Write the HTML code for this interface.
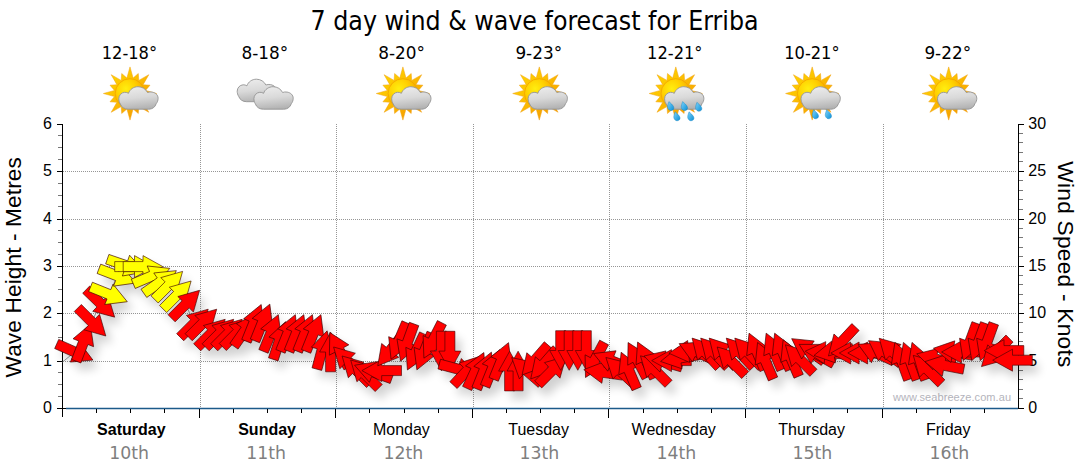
<!DOCTYPE html><html><head><meta charset="utf-8"><title>7 day wind &amp; wave forecast for Erriba</title>
<style>html,body{margin:0;padding:0;background:#fff}svg{display:block}text{font-family:"Liberation Sans",sans-serif;fill:#000}.t{font-family:"DejaVu Sans Condensed","DejaVu Sans","Liberation Sans",sans-serif}.d{font-family:"DejaVu Sans","Liberation Sans",sans-serif;fill:#7f7f7f}</style></head><body>
<svg width="1080" height="475" viewBox="0 0 1080 475">
<defs>
<radialGradient id="sg" cx="0.36" cy="0.34" r="0.75"><stop offset="0" stop-color="#ffee10"/><stop offset="0.45" stop-color="#ffd000"/><stop offset="1" stop-color="#f39a00"/></radialGradient>
<linearGradient id="rg" x1="0" y1="0" x2="1" y2="1"><stop offset="0" stop-color="#ffe000"/><stop offset="0.5" stop-color="#fbb800"/><stop offset="1" stop-color="#f08c00"/></linearGradient>
<linearGradient id="cg" x1="0.3" y1="0" x2="0.5" y2="1"><stop offset="0" stop-color="#ececec"/><stop offset="0.5" stop-color="#d9d9d9"/><stop offset="1" stop-color="#b2b2b2"/></linearGradient>
<linearGradient id="dg" x1="0" y1="0" x2="1" y2="1"><stop offset="0" stop-color="#7fd4fb"/><stop offset="1" stop-color="#0a8fd6"/></linearGradient>
<filter id="sh" x="-5%" y="-30%" width="110%" height="170%"><feGaussianBlur stdDeviation="5"/></filter>
<filter id="is" x="-20%" y="-20%" width="140%" height="150%"><feGaussianBlur stdDeviation="0.5"/></filter>
<path id="ar" d="M-19.8-5H0V-11L19.8 0L0 11V5H-19.8Z"/>
<path id="cl" d="M9.5 22.5C5.5 22.5 2.6 20.4 1.5 17.2C0.5 15.7 0 13.8 0 12C0 8.6 2.6 5.8 5.9 5.6C7.3 5.5 8.6 5.9 9.7 6.6C11 2.7 14.8 0 19.2 0C23.4 0 27 2.3 28.7 5.8C30.1 5.2 31.7 5.1 33.3 5.4C36.8 6 39.3 8.4 39.3 11.5C39.3 13.7 38.6 15.6 37.4 17C36.4 20.4 33.6 22.5 29.8 22.5Z" fill="url(#cg)" stroke="#949494" stroke-width="0.9"/>
<path id="dr" d="M-1.9-4.2C0.5-2.1 3.4 0.3 3 2.6C2.7 4.6 0.2 5.4-1.6 4.2C-3.5 3-3.5 0.7-2.8-1.4Z" fill="url(#dg)" stroke="#0b7fc0" stroke-width="0.4"/>
<g id="sun">
<polygon points="0.0,-26.6 3.1,-15.5 8.3,-20.0 8.8,-13.1 18.8,-18.8 13.1,-8.8 20.0,-8.3 15.5,-3.1 26.6,0.0 15.5,3.1 20.0,8.3 13.1,8.8 18.8,18.8 8.8,13.1 8.3,20.0 3.1,15.5 0.0,26.6 -3.1,15.5 -8.3,20.0 -8.8,13.1 -18.8,18.8 -13.1,8.8 -20.0,8.3 -15.5,3.1 -26.6,0.0 -15.5,-3.1 -20.0,-8.3 -13.1,-8.8 -18.8,-18.8 -8.8,-13.1 -8.3,-20.0 -3.1,-15.5" fill="url(#rg)" stroke="#f0a010" stroke-width="0.5" stroke-linejoin="round"/>
<circle r="14.8" fill="url(#sg)" stroke="#f2a200" stroke-width="0.8"/>
</g></defs>
<rect width="1080" height="475" fill="#fff"/>
<text class="t" x="310.6" y="30" font-size="26.67" textLength="448" lengthAdjust="spacingAndGlyphs">7 day wind &amp; wave forecast for Erriba</text>
<text class="t" x="101.7" y="59" font-size="17.33" textLength="55.4" lengthAdjust="spacingAndGlyphs">12-18°</text>
<use href="#sun" x="130.0" y="93.5"/>
<use href="#cl" x="118.8" y="86.7"/>
<text class="t" x="241.5" y="59" font-size="17.33" textLength="46.7" lengthAdjust="spacingAndGlyphs">8-18°</text>
<use href="#cl" x="237.2" y="79.2"/><use href="#cl" x="253.9" y="86.7"/>
<text class="t" x="378.2" y="59" font-size="17.33" textLength="46.7" lengthAdjust="spacingAndGlyphs">8-20°</text>
<use href="#sun" x="402.9" y="93.5"/>
<use href="#cl" x="391.7" y="86.7"/>
<text class="t" x="515.4" y="59" font-size="17.33" textLength="46.7" lengthAdjust="spacingAndGlyphs">9-23°</text>
<use href="#sun" x="539.3" y="93.5"/>
<use href="#cl" x="528.1" y="86.7"/>
<text class="t" x="647.1" y="59" font-size="17.33" textLength="55.4" lengthAdjust="spacingAndGlyphs">12-21°</text>
<use href="#sun" x="675.8" y="93.5"/>
<use href="#cl" x="664.6" y="86.7"/>
<use href="#dr" x="670.8" y="105.8"/>
<use href="#dr" x="684.5" y="105.8"/>
<use href="#dr" x="698.8" y="106.5"/>
<use href="#dr" x="677.0" y="116.0"/>
<use href="#dr" x="690.9" y="116.0"/>
<text class="t" x="784.2" y="59" font-size="17.33" textLength="55.4" lengthAdjust="spacingAndGlyphs">10-21°</text>
<use href="#sun" x="812.2" y="93.5"/>
<use href="#cl" x="801.0" y="86.7"/>
<use href="#dr" x="815.5" y="114.0"/>
<use href="#dr" x="828.5" y="114.0"/>
<text class="t" x="924.4" y="59" font-size="17.33" textLength="46.7" lengthAdjust="spacingAndGlyphs">9-22°</text>
<use href="#sun" x="948.7" y="93.5"/>
<use href="#cl" x="937.5" y="86.7"/>
<g stroke="#969696" stroke-width="1" stroke-dasharray="1 1" fill="none" shape-rendering="crispEdges">
<path d="M63 361.5H1016"/>
<path d="M63 313.5H1016"/>
<path d="M63 266.5H1016"/>
<path d="M63 219.5H1016"/>
<path d="M63 171.5H1016"/>
<path d="M200.5 124V408"/>
<path d="M336.5 124V408"/>
<path d="M473.5 124V408"/>
<path d="M609.5 124V408"/>
<path d="M746.5 124V408"/>
<path d="M883.5 124V408"/>
</g>
<text x="893" y="400.8" font-size="11" textLength="118" lengthAdjust="spacing" style="fill:#b4b4bc">www.seabreeze.com.au</text>
<g stroke="#000" stroke-width="1" fill="none" shape-rendering="crispEdges">
<path d="M62.5 124V417"/><path d="M1018.5 124V409"/>
<path d="M57 408.5H62"/><path d="M1019 408.5H1024"/>
<path d="M57 361.5H62"/><path d="M1019 361.5H1024"/>
<path d="M57 313.5H62"/><path d="M1019 313.5H1024"/>
<path d="M57 266.5H62"/><path d="M1019 266.5H1024"/>
<path d="M57 219.5H62"/><path d="M1019 219.5H1024"/>
<path d="M57 171.5H62"/><path d="M1019 171.5H1024"/>
<path d="M57 124.5H62"/><path d="M1019 124.5H1024"/>
</g><g stroke="#777" stroke-width="1" fill="none" shape-rendering="crispEdges">
<path d="M1019 398.5H1023"/>
<path d="M1019 389.5H1023"/>
<path d="M1019 379.5H1023"/>
<path d="M1019 370.5H1023"/>
<path d="M1019 351.5H1023"/>
<path d="M1019 341.5H1023"/>
<path d="M1019 332.5H1023"/>
<path d="M1019 322.5H1023"/>
<path d="M1019 303.5H1023"/>
<path d="M1019 294.5H1023"/>
<path d="M1019 284.5H1023"/>
<path d="M1019 275.5H1023"/>
<path d="M1019 256.5H1023"/>
<path d="M1019 247.5H1023"/>
<path d="M1019 237.5H1023"/>
<path d="M1019 228.5H1023"/>
<path d="M1019 209.5H1023"/>
<path d="M1019 199.5H1023"/>
<path d="M1019 190.5H1023"/>
<path d="M1019 180.5H1023"/>
<path d="M1019 161.5H1023"/>
<path d="M1019 152.5H1023"/>
<path d="M1019 142.5H1023"/>
<path d="M1019 133.5H1023"/>
<path d="M58 396.5H62"/>
<path d="M58 384.5H62"/>
<path d="M58 372.5H62"/>
<path d="M58 348.5H62"/>
<path d="M58 337.5H62"/>
<path d="M58 325.5H62"/>
<path d="M58 301.5H62"/>
<path d="M58 289.5H62"/>
<path d="M58 277.5H62"/>
<path d="M58 254.5H62"/>
<path d="M58 242.5H62"/>
<path d="M58 230.5H62"/>
<path d="M58 206.5H62"/>
<path d="M58 195.5H62"/>
<path d="M58 183.5H62"/>
<path d="M58 159.5H62"/>
<path d="M58 147.5H62"/>
<path d="M58 135.5H62"/>
</g>
<path d="M57 408.5H66" stroke="#000" stroke-width="1" fill="none" shape-rendering="crispEdges"/><path d="M66 408.5H1018" stroke="#1c5a8a" stroke-width="1.3" fill="none"/>
<g stroke="#000" stroke-width="1" fill="none" shape-rendering="crispEdges">
<path d="M96.5 409V413"/>
<path d="M130.5 409V413"/>
<path d="M164.5 409V413"/>
<path d="M199.5 409V418"/>
<path d="M233.5 409V413"/>
<path d="M267.5 409V413"/>
<path d="M301.5 409V413"/>
<path d="M335.5 409V418"/>
<path d="M369.5 409V413"/>
<path d="M404.5 409V413"/>
<path d="M438.5 409V413"/>
<path d="M472.5 409V418"/>
<path d="M506.5 409V413"/>
<path d="M540.5 409V413"/>
<path d="M574.5 409V413"/>
<path d="M608.5 409V418"/>
<path d="M643.5 409V413"/>
<path d="M677.5 409V413"/>
<path d="M711.5 409V413"/>
<path d="M745.5 409V418"/>
<path d="M779.5 409V413"/>
<path d="M813.5 409V413"/>
<path d="M847.5 409V413"/>
<path d="M882.5 409V418"/>
<path d="M916.5 409V413"/>
<path d="M950.5 409V413"/>
<path d="M984.5 409V413"/>
</g>
<text x="52" y="413.0" font-size="16" text-anchor="end">0</text>
<text x="1028.3" y="413.0" font-size="16">0</text>
<text x="52" y="365.7" font-size="16" text-anchor="end">1</text>
<text x="1028.3" y="365.7" font-size="16">5</text>
<text x="52" y="318.3" font-size="16" text-anchor="end">2</text>
<text x="1028.3" y="318.3" font-size="16">10</text>
<text x="52" y="271.0" font-size="16" text-anchor="end">3</text>
<text x="1028.3" y="271.0" font-size="16">15</text>
<text x="52" y="223.7" font-size="16" text-anchor="end">4</text>
<text x="1028.3" y="223.7" font-size="16">20</text>
<text x="52" y="176.3" font-size="16" text-anchor="end">5</text>
<text x="1028.3" y="176.3" font-size="16">25</text>
<text x="52" y="129.0" font-size="16" text-anchor="end">6</text>
<text x="1028.3" y="129.0" font-size="16">30</text>
<text transform="translate(21 267.3) rotate(-90)" font-size="22.7" text-anchor="middle" textLength="220.5" lengthAdjust="spacing">Wave Height - Metres</text>
<text transform="translate(1058.3 264.3) rotate(90)" font-size="22.7" text-anchor="middle" textLength="206" lengthAdjust="spacing">Wind Speed - Knots</text>
<text x="131.3" y="434.6" font-size="16" text-anchor="middle" font-weight="bold">Saturday</text>
<text class="d" x="109.3" y="458.7" font-size="17.33" textLength="39.8" lengthAdjust="spacingAndGlyphs">10th</text>
<text x="267.1" y="434.6" font-size="16" text-anchor="middle" font-weight="bold">Sunday</text>
<text class="d" x="246.2" y="458.7" font-size="17.33" textLength="39.8" lengthAdjust="spacingAndGlyphs">11th</text>
<text x="401.4" y="434.6" font-size="16" text-anchor="middle">Monday</text>
<text class="d" x="383.4" y="458.7" font-size="17.33" textLength="39.8" lengthAdjust="spacingAndGlyphs">12th</text>
<text x="538.6" y="434.6" font-size="16" text-anchor="middle">Tuesday</text>
<text class="d" x="519.5" y="458.7" font-size="17.33" textLength="39.8" lengthAdjust="spacingAndGlyphs">13th</text>
<text x="673.7" y="434.6" font-size="16" text-anchor="middle">Wednesday</text>
<text class="d" x="656.4" y="458.7" font-size="17.33" textLength="39.8" lengthAdjust="spacingAndGlyphs">14th</text>
<text x="811.6" y="434.6" font-size="16" text-anchor="middle">Thursday</text>
<text class="d" x="792.5" y="458.7" font-size="17.33" textLength="39.8" lengthAdjust="spacingAndGlyphs">15th</text>
<text x="948.2" y="434.6" font-size="16" text-anchor="middle">Friday</text>
<text class="d" x="929.4" y="458.7" font-size="17.33" textLength="39.8" lengthAdjust="spacingAndGlyphs">16th</text>
<g filter="url(#sh)" opacity="0.18" transform="translate(6 8)" fill="#000">
<use href="#ar" transform="translate(74.8 352.0) rotate(24)"/>
<use href="#ar" transform="translate(83.3 342.7) rotate(-69)"/>
<use href="#ar" transform="translate(91.8 322.0) rotate(45)"/>
<use href="#ar" transform="translate(100.4 303.4) rotate(44)"/>
<use href="#ar" transform="translate(108.9 294.3) rotate(22)"/>
<use href="#ar" transform="translate(117.4 275.9) rotate(21)"/>
<use href="#ar" transform="translate(126.0 265.6) rotate(19)"/>
<use href="#ar" transform="translate(134.5 266.6) rotate(0)"/>
<use href="#ar" transform="translate(143.0 266.6) rotate(0)"/>
<use href="#ar" transform="translate(151.5 276.1) rotate(-23)"/>
<use href="#ar" transform="translate(160.1 282.0) rotate(-35)"/>
<use href="#ar" transform="translate(168.6 285.4) rotate(-45)"/>
<use href="#ar" transform="translate(177.1 295.0) rotate(-45)"/>
<use href="#ar" transform="translate(185.6 304.3) rotate(-45)"/>
<use href="#ar" transform="translate(194.2 323.2) rotate(-45)"/>
<use href="#ar" transform="translate(202.7 323.2) rotate(-45)"/>
<use href="#ar" transform="translate(211.2 333.3) rotate(-45)"/>
<use href="#ar" transform="translate(219.7 333.3) rotate(-45)"/>
<use href="#ar" transform="translate(228.2 333.3) rotate(-45)"/>
<use href="#ar" transform="translate(236.8 333.0) rotate(-45)"/>
<use href="#ar" transform="translate(245.3 330.0) rotate(-55)"/>
<use href="#ar" transform="translate(253.8 322.9) rotate(-68)"/>
<use href="#ar" transform="translate(262.4 322.5) rotate(-68)"/>
<use href="#ar" transform="translate(270.9 333.0) rotate(-68)"/>
<use href="#ar" transform="translate(279.4 340.5) rotate(-72)"/>
<use href="#ar" transform="translate(287.9 333.0) rotate(-68)"/>
<use href="#ar" transform="translate(296.4 333.0) rotate(-68)"/>
<use href="#ar" transform="translate(305.0 333.0) rotate(-68)"/>
<use href="#ar" transform="translate(313.5 333.0) rotate(-68)"/>
<use href="#ar" transform="translate(322.0 350.0) rotate(-75)"/>
<use href="#ar" transform="translate(330.6 352.0) rotate(-90)"/>
<use href="#ar" transform="translate(339.1 350.0) rotate(-118)"/>
<use href="#ar" transform="translate(347.6 361.0) rotate(-135)"/>
<use href="#ar" transform="translate(356.1 370.0) rotate(-135)"/>
<use href="#ar" transform="translate(364.7 374.0) rotate(-135)"/>
<use href="#ar" transform="translate(373.2 372.0) rotate(-160)"/>
<use href="#ar" transform="translate(381.7 370.6) rotate(180)"/>
<use href="#ar" transform="translate(390.2 350.4) rotate(129)"/>
<use href="#ar" transform="translate(398.8 341.0) rotate(113)"/>
<use href="#ar" transform="translate(407.3 342.6) rotate(110)"/>
<use href="#ar" transform="translate(415.8 352.0) rotate(115)"/>
<use href="#ar" transform="translate(424.3 351.5) rotate(112)"/>
<use href="#ar" transform="translate(432.9 340.5) rotate(117)"/>
<use href="#ar" transform="translate(441.4 351.0) rotate(90)"/>
<use href="#ar" transform="translate(449.9 351.1) rotate(90)"/>
<use href="#ar" transform="translate(458.4 369.2) rotate(15)"/>
<use href="#ar" transform="translate(467.0 370.6) rotate(-47)"/>
<use href="#ar" transform="translate(475.5 370.5) rotate(-65)"/>
<use href="#ar" transform="translate(484.0 370.5) rotate(-68)"/>
<use href="#ar" transform="translate(492.5 368.0) rotate(-68)"/>
<use href="#ar" transform="translate(501.1 361.0) rotate(-68)"/>
<use href="#ar" transform="translate(509.6 371.1) rotate(-90)"/>
<use href="#ar" transform="translate(518.1 371.0) rotate(-90)"/>
<use href="#ar" transform="translate(526.6 370.6) rotate(-139)"/>
<use href="#ar" transform="translate(535.1 360.0) rotate(131)"/>
<use href="#ar" transform="translate(543.7 364.0) rotate(131)"/>
<use href="#ar" transform="translate(552.2 370.4) rotate(-45)"/>
<use href="#ar" transform="translate(560.7 350.5) rotate(90)"/>
<use href="#ar" transform="translate(569.2 350.5) rotate(90)"/>
<use href="#ar" transform="translate(577.8 350.5) rotate(90)"/>
<use href="#ar" transform="translate(586.3 350.5) rotate(90)"/>
<use href="#ar" transform="translate(594.8 360.0) rotate(118)"/>
<use href="#ar" transform="translate(603.4 372.4) rotate(-172)"/>
<use href="#ar" transform="translate(611.9 361.0) rotate(-158)"/>
<use href="#ar" transform="translate(620.4 371.0) rotate(-137)"/>
<use href="#ar" transform="translate(628.9 370.5) rotate(-113)"/>
<use href="#ar" transform="translate(637.4 360.0) rotate(-118)"/>
<use href="#ar" transform="translate(646.0 360.0) rotate(-115)"/>
<use href="#ar" transform="translate(654.5 369.8) rotate(-135)"/>
<use href="#ar" transform="translate(663.0 361.5) rotate(-164)"/>
<use href="#ar" transform="translate(671.5 360.6) rotate(180)"/>
<use href="#ar" transform="translate(680.1 358.0) rotate(170)"/>
<use href="#ar" transform="translate(688.6 351.5) rotate(175)"/>
<use href="#ar" transform="translate(697.1 352.0) rotate(-155)"/>
<use href="#ar" transform="translate(705.6 352.6) rotate(-133)"/>
<use href="#ar" transform="translate(714.2 352.6) rotate(-133)"/>
<use href="#ar" transform="translate(722.7 352.6) rotate(-133)"/>
<use href="#ar" transform="translate(731.2 361.0) rotate(-135)"/>
<use href="#ar" transform="translate(739.8 352.6) rotate(-133)"/>
<use href="#ar" transform="translate(748.3 352.6) rotate(-133)"/>
<use href="#ar" transform="translate(756.8 351.4) rotate(-113)"/>
<use href="#ar" transform="translate(765.3 360.7) rotate(-113)"/>
<use href="#ar" transform="translate(773.9 351.4) rotate(-113)"/>
<use href="#ar" transform="translate(782.4 351.4) rotate(-113)"/>
<use href="#ar" transform="translate(790.9 358.0) rotate(-113)"/>
<use href="#ar" transform="translate(799.4 358.8) rotate(-135)"/>
<use href="#ar" transform="translate(807.9 350.0) rotate(-145)"/>
<use href="#ar" transform="translate(816.5 354.0) rotate(-151)"/>
<use href="#ar" transform="translate(825.0 352.6) rotate(-176)"/>
<use href="#ar" transform="translate(833.5 352.0) rotate(170)"/>
<use href="#ar" transform="translate(842.0 341.5) rotate(133)"/>
<use href="#ar" transform="translate(850.6 353.0) rotate(180)"/>
<use href="#ar" transform="translate(859.1 353.0) rotate(180)"/>
<use href="#ar" transform="translate(867.6 353.0) rotate(180)"/>
<use href="#ar" transform="translate(876.1 352.7) rotate(-155)"/>
<use href="#ar" transform="translate(884.7 352.0) rotate(-145)"/>
<use href="#ar" transform="translate(893.2 352.3) rotate(-135)"/>
<use href="#ar" transform="translate(901.7 361.0) rotate(-110)"/>
<use href="#ar" transform="translate(910.2 361.0) rotate(-110)"/>
<use href="#ar" transform="translate(918.8 361.0) rotate(-110)"/>
<use href="#ar" transform="translate(927.3 369.4) rotate(-135)"/>
<use href="#ar" transform="translate(935.8 359.0) rotate(-165)"/>
<use href="#ar" transform="translate(944.4 365.4) rotate(-169)"/>
<use href="#ar" transform="translate(952.9 351.7) rotate(-170)"/>
<use href="#ar" transform="translate(961.4 352.0) rotate(180)"/>
<use href="#ar" transform="translate(969.9 342.0) rotate(110)"/>
<use href="#ar" transform="translate(978.5 342.0) rotate(110)"/>
<use href="#ar" transform="translate(987.0 342.0) rotate(110)"/>
<use href="#ar" transform="translate(995.5 352.6) rotate(135)"/>
<use href="#ar" transform="translate(1004.0 350.6) rotate(180)"/>
<use href="#ar" transform="translate(1012.5 360.2) rotate(180)"/>
</g>
<polyline fill="none" stroke="#8a8a8a" stroke-width="1" points="62.5,362.0 74.8,352.0 83.3,342.7 91.8,322.0 100.4,303.4 108.9,294.3 117.4,275.9 126.0,265.6 134.5,266.6 143.0,266.6 151.5,276.1 160.1,282.0 168.6,285.4 177.1,295.0 185.6,304.3 194.2,323.2 202.7,323.2 211.2,333.3 219.7,333.3 228.2,333.3 236.8,333.0 245.3,330.0 253.8,322.9 262.4,322.5 270.9,333.0 279.4,340.5 287.9,333.0 296.4,333.0 305.0,333.0 313.5,333.0 322.0,350.0 330.6,352.0 339.1,350.0 347.6,361.0 356.1,370.0 364.7,374.0 373.2,372.0 381.7,370.6 390.2,350.4 398.8,341.0 407.3,342.6 415.8,352.0 424.3,351.5 432.9,340.5 441.4,351.0 449.9,351.1 458.4,369.2 467.0,370.6 475.5,370.5 484.0,370.5 492.5,368.0 501.1,361.0 509.6,371.1 518.1,371.0 526.6,370.6 535.1,360.0 543.7,364.0 552.2,370.4 560.7,350.5 569.2,350.5 577.8,350.5 586.3,350.5 594.8,360.0 603.4,372.4 611.9,361.0 620.4,371.0 628.9,370.5 637.4,360.0 646.0,360.0 654.5,369.8 663.0,361.5 671.5,360.6 680.1,358.0 688.6,351.5 697.1,352.0 705.6,352.6 714.2,352.6 722.7,352.6 731.2,361.0 739.8,352.6 748.3,352.6 756.8,351.4 765.3,360.7 773.9,351.4 782.4,351.4 790.9,358.0 799.4,358.8 807.9,350.0 816.5,354.0 825.0,352.6 833.5,352.0 842.0,341.5 850.6,353.0 859.1,353.0 867.6,353.0 876.1,352.7 884.7,352.0 893.2,352.3 901.7,361.0 910.2,361.0 918.8,361.0 927.3,369.4 935.8,359.0 944.4,365.4 952.9,351.7 961.4,352.0 969.9,342.0 978.5,342.0 987.0,342.0 995.5,352.6 1004.0,350.6 1012.5,360.2"/>
<g stroke="#3a0000" stroke-width="0.6" stroke-linejoin="miter">
<use href="#ar" fill="#ff0000" transform="translate(74.8 352.0) rotate(24)"/>
<use href="#ar" fill="#ff0000" transform="translate(83.3 342.7) rotate(-69)"/>
<use href="#ar" fill="#ff0000" transform="translate(91.8 322.0) rotate(45)"/>
<use href="#ar" fill="#ff0000" transform="translate(100.4 303.4) rotate(44)"/>
<use href="#ar" fill="#ffff00" transform="translate(108.9 294.3) rotate(22)"/>
<use href="#ar" fill="#ffff00" transform="translate(117.4 275.9) rotate(21)"/>
<use href="#ar" fill="#ffff00" transform="translate(126.0 265.6) rotate(19)"/>
<use href="#ar" fill="#ffff00" transform="translate(134.5 266.6) rotate(0)"/>
<use href="#ar" fill="#ffff00" transform="translate(143.0 266.6) rotate(0)"/>
<use href="#ar" fill="#ffff00" transform="translate(151.5 276.1) rotate(-23)"/>
<use href="#ar" fill="#ffff00" transform="translate(160.1 282.0) rotate(-35)"/>
<use href="#ar" fill="#ffff00" transform="translate(168.6 285.4) rotate(-45)"/>
<use href="#ar" fill="#ffff00" transform="translate(177.1 295.0) rotate(-45)"/>
<use href="#ar" fill="#ff0000" transform="translate(185.6 304.3) rotate(-45)"/>
<use href="#ar" fill="#ff0000" transform="translate(194.2 323.2) rotate(-45)"/>
<use href="#ar" fill="#ff0000" transform="translate(202.7 323.2) rotate(-45)"/>
<use href="#ar" fill="#ff0000" transform="translate(211.2 333.3) rotate(-45)"/>
<use href="#ar" fill="#ff0000" transform="translate(219.7 333.3) rotate(-45)"/>
<use href="#ar" fill="#ff0000" transform="translate(228.2 333.3) rotate(-45)"/>
<use href="#ar" fill="#ff0000" transform="translate(236.8 333.0) rotate(-45)"/>
<use href="#ar" fill="#ff0000" transform="translate(245.3 330.0) rotate(-55)"/>
<use href="#ar" fill="#ff0000" transform="translate(253.8 322.9) rotate(-68)"/>
<use href="#ar" fill="#ff0000" transform="translate(262.4 322.5) rotate(-68)"/>
<use href="#ar" fill="#ff0000" transform="translate(270.9 333.0) rotate(-68)"/>
<use href="#ar" fill="#ff0000" transform="translate(279.4 340.5) rotate(-72)"/>
<use href="#ar" fill="#ff0000" transform="translate(287.9 333.0) rotate(-68)"/>
<use href="#ar" fill="#ff0000" transform="translate(296.4 333.0) rotate(-68)"/>
<use href="#ar" fill="#ff0000" transform="translate(305.0 333.0) rotate(-68)"/>
<use href="#ar" fill="#ff0000" transform="translate(313.5 333.0) rotate(-68)"/>
<use href="#ar" fill="#ff0000" transform="translate(322.0 350.0) rotate(-75)"/>
<use href="#ar" fill="#ff0000" transform="translate(330.6 352.0) rotate(-90)"/>
<use href="#ar" fill="#ff0000" transform="translate(339.1 350.0) rotate(-118)"/>
<use href="#ar" fill="#ff0000" transform="translate(347.6 361.0) rotate(-135)"/>
<use href="#ar" fill="#ff0000" transform="translate(356.1 370.0) rotate(-135)"/>
<use href="#ar" fill="#ff0000" transform="translate(364.7 374.0) rotate(-135)"/>
<use href="#ar" fill="#ff0000" transform="translate(373.2 372.0) rotate(-160)"/>
<use href="#ar" fill="#ff0000" transform="translate(381.7 370.6) rotate(180)"/>
<use href="#ar" fill="#ff0000" transform="translate(390.2 350.4) rotate(129)"/>
<use href="#ar" fill="#ff0000" transform="translate(398.8 341.0) rotate(113)"/>
<use href="#ar" fill="#ff0000" transform="translate(407.3 342.6) rotate(110)"/>
<use href="#ar" fill="#ff0000" transform="translate(415.8 352.0) rotate(115)"/>
<use href="#ar" fill="#ff0000" transform="translate(424.3 351.5) rotate(112)"/>
<use href="#ar" fill="#ff0000" transform="translate(432.9 340.5) rotate(117)"/>
<use href="#ar" fill="#ff0000" transform="translate(441.4 351.0) rotate(90)"/>
<use href="#ar" fill="#ff0000" transform="translate(449.9 351.1) rotate(90)"/>
<use href="#ar" fill="#ff0000" transform="translate(458.4 369.2) rotate(15)"/>
<use href="#ar" fill="#ff0000" transform="translate(467.0 370.6) rotate(-47)"/>
<use href="#ar" fill="#ff0000" transform="translate(475.5 370.5) rotate(-65)"/>
<use href="#ar" fill="#ff0000" transform="translate(484.0 370.5) rotate(-68)"/>
<use href="#ar" fill="#ff0000" transform="translate(492.5 368.0) rotate(-68)"/>
<use href="#ar" fill="#ff0000" transform="translate(501.1 361.0) rotate(-68)"/>
<use href="#ar" fill="#ff0000" transform="translate(509.6 371.1) rotate(-90)"/>
<use href="#ar" fill="#ff0000" transform="translate(518.1 371.0) rotate(-90)"/>
<use href="#ar" fill="#ff0000" transform="translate(526.6 370.6) rotate(-139)"/>
<use href="#ar" fill="#ff0000" transform="translate(535.1 360.0) rotate(131)"/>
<use href="#ar" fill="#ff0000" transform="translate(543.7 364.0) rotate(131)"/>
<use href="#ar" fill="#ff0000" transform="translate(552.2 370.4) rotate(-45)"/>
<use href="#ar" fill="#ff0000" transform="translate(560.7 350.5) rotate(90)"/>
<use href="#ar" fill="#ff0000" transform="translate(569.2 350.5) rotate(90)"/>
<use href="#ar" fill="#ff0000" transform="translate(577.8 350.5) rotate(90)"/>
<use href="#ar" fill="#ff0000" transform="translate(586.3 350.5) rotate(90)"/>
<use href="#ar" fill="#ff0000" transform="translate(594.8 360.0) rotate(118)"/>
<use href="#ar" fill="#ff0000" transform="translate(603.4 372.4) rotate(-172)"/>
<use href="#ar" fill="#ff0000" transform="translate(611.9 361.0) rotate(-158)"/>
<use href="#ar" fill="#ff0000" transform="translate(620.4 371.0) rotate(-137)"/>
<use href="#ar" fill="#ff0000" transform="translate(628.9 370.5) rotate(-113)"/>
<use href="#ar" fill="#ff0000" transform="translate(637.4 360.0) rotate(-118)"/>
<use href="#ar" fill="#ff0000" transform="translate(646.0 360.0) rotate(-115)"/>
<use href="#ar" fill="#ff0000" transform="translate(654.5 369.8) rotate(-135)"/>
<use href="#ar" fill="#ff0000" transform="translate(663.0 361.5) rotate(-164)"/>
<use href="#ar" fill="#ff0000" transform="translate(671.5 360.6) rotate(180)"/>
<use href="#ar" fill="#ff0000" transform="translate(680.1 358.0) rotate(170)"/>
<use href="#ar" fill="#ff0000" transform="translate(688.6 351.5) rotate(175)"/>
<use href="#ar" fill="#ff0000" transform="translate(697.1 352.0) rotate(-155)"/>
<use href="#ar" fill="#ff0000" transform="translate(705.6 352.6) rotate(-133)"/>
<use href="#ar" fill="#ff0000" transform="translate(714.2 352.6) rotate(-133)"/>
<use href="#ar" fill="#ff0000" transform="translate(722.7 352.6) rotate(-133)"/>
<use href="#ar" fill="#ff0000" transform="translate(731.2 361.0) rotate(-135)"/>
<use href="#ar" fill="#ff0000" transform="translate(739.8 352.6) rotate(-133)"/>
<use href="#ar" fill="#ff0000" transform="translate(748.3 352.6) rotate(-133)"/>
<use href="#ar" fill="#ff0000" transform="translate(756.8 351.4) rotate(-113)"/>
<use href="#ar" fill="#ff0000" transform="translate(765.3 360.7) rotate(-113)"/>
<use href="#ar" fill="#ff0000" transform="translate(773.9 351.4) rotate(-113)"/>
<use href="#ar" fill="#ff0000" transform="translate(782.4 351.4) rotate(-113)"/>
<use href="#ar" fill="#ff0000" transform="translate(790.9 358.0) rotate(-113)"/>
<use href="#ar" fill="#ff0000" transform="translate(799.4 358.8) rotate(-135)"/>
<use href="#ar" fill="#ff0000" transform="translate(807.9 350.0) rotate(-145)"/>
<use href="#ar" fill="#ff0000" transform="translate(816.5 354.0) rotate(-151)"/>
<use href="#ar" fill="#ff0000" transform="translate(825.0 352.6) rotate(-176)"/>
<use href="#ar" fill="#ff0000" transform="translate(833.5 352.0) rotate(170)"/>
<use href="#ar" fill="#ff0000" transform="translate(842.0 341.5) rotate(133)"/>
<use href="#ar" fill="#ff0000" transform="translate(850.6 353.0) rotate(180)"/>
<use href="#ar" fill="#ff0000" transform="translate(859.1 353.0) rotate(180)"/>
<use href="#ar" fill="#ff0000" transform="translate(867.6 353.0) rotate(180)"/>
<use href="#ar" fill="#ff0000" transform="translate(876.1 352.7) rotate(-155)"/>
<use href="#ar" fill="#ff0000" transform="translate(884.7 352.0) rotate(-145)"/>
<use href="#ar" fill="#ff0000" transform="translate(893.2 352.3) rotate(-135)"/>
<use href="#ar" fill="#ff0000" transform="translate(901.7 361.0) rotate(-110)"/>
<use href="#ar" fill="#ff0000" transform="translate(910.2 361.0) rotate(-110)"/>
<use href="#ar" fill="#ff0000" transform="translate(918.8 361.0) rotate(-110)"/>
<use href="#ar" fill="#ff0000" transform="translate(927.3 369.4) rotate(-135)"/>
<use href="#ar" fill="#ff0000" transform="translate(935.8 359.0) rotate(-165)"/>
<use href="#ar" fill="#ff0000" transform="translate(944.4 365.4) rotate(-169)"/>
<use href="#ar" fill="#ff0000" transform="translate(952.9 351.7) rotate(-170)"/>
<use href="#ar" fill="#ff0000" transform="translate(961.4 352.0) rotate(180)"/>
<use href="#ar" fill="#ff0000" transform="translate(969.9 342.0) rotate(110)"/>
<use href="#ar" fill="#ff0000" transform="translate(978.5 342.0) rotate(110)"/>
<use href="#ar" fill="#ff0000" transform="translate(987.0 342.0) rotate(110)"/>
<use href="#ar" fill="#ff0000" transform="translate(995.5 352.6) rotate(135)"/>
<use href="#ar" fill="#ff0000" transform="translate(1004.0 350.6) rotate(180)"/>
<use href="#ar" fill="#ff0000" transform="translate(1012.5 360.2) rotate(180)"/>
</g>
</svg></body></html>
